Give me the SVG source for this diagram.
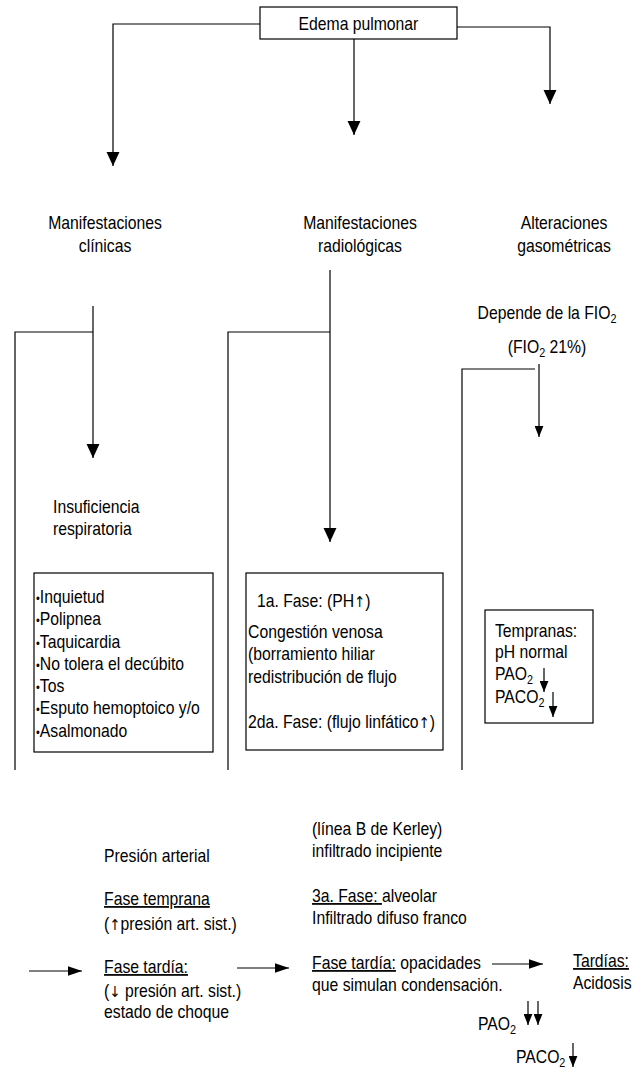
<svg xmlns="http://www.w3.org/2000/svg" width="641" height="1070" viewBox="0 0 641 1070">
<style>
text{font-family:"Liberation Sans",Arial,Helvetica,sans-serif;font-size:17.5px;fill:#000}
.c{text-anchor:middle}
.u{text-decoration:underline}
.sub{font-size:12px}
.ar{font-family:"DejaVu Sans",sans-serif;font-size:15px}
.bul{font-size:12px}
.box{fill:#fff;stroke:#000;stroke-width:1.2}
.ln{fill:none;stroke:#000;stroke-width:1.2}
</style>
<defs>
<marker id="big" markerUnits="userSpaceOnUse" markerWidth="14" markerHeight="14" viewBox="0 0 13 12" refX="13" refY="6" orient="auto">
<path d="M0,0 L13,6 L0,12 z" fill="#000"/>
</marker>
<marker id="mid" markerUnits="userSpaceOnUse" markerWidth="14" markerHeight="10" viewBox="0 0 12 8" refX="12" refY="4" orient="auto">
<path d="M0,0 L12,4 L0,8 z" fill="#000"/>
</marker>
<marker id="sm" markerUnits="userSpaceOnUse" markerWidth="11" markerHeight="9" viewBox="0 0 10 8" refX="10" refY="4" orient="auto">
<path d="M0,0 L10,4 L0,8 z" fill="#000"/>
</marker>
</defs>
<rect width="641" height="1070" fill="#fff"/>

<g id="connectors">
<path class="ln" d="M260,24 H113 V166" marker-end="url(#big)"/>
<path class="ln" d="M354,39 V135" marker-end="url(#big)"/>
<path class="ln" d="M457,27 H550 V104" marker-end="url(#big)"/>
<path class="ln" d="M93,306 V458" marker-end="url(#big)"/>
<path class="ln" d="M93,332 H15 V770"/>
<path class="ln" d="M330,270 V542" marker-end="url(#big)"/>
<path class="ln" d="M330,332 H228 V770"/>
<path class="ln" d="M539,364 V437" marker-end="url(#sm)"/>
<path class="ln" d="M535,369 H462 V770"/>
<path class="ln" d="M29,971 H82" marker-end="url(#mid)"/>
<path class="ln" d="M237,968 H289" marker-end="url(#mid)"/>
<path class="ln" d="M492,964 H543" marker-end="url(#mid)"/>
</g>

<g id="edema">
<rect class="box" x="260" y="7" width="197" height="32"/>
<g transform="scale(0.9,1)"><text class="c" x="398.3" y="30">Edema pulmonar</text></g>
</g>

<g id="clinicas">
<g transform="scale(0.9,1)">
<text class="c" x="116.7" y="229">Manifestaciones</text>
<text class="c" x="116.7" y="252">clínicas</text>
</g>
</g>
<g id="radiologicas">
<g transform="scale(0.9,1)">
<text class="c" x="400" y="229">Manifestaciones</text>
<text class="c" x="400" y="252">radiológicas</text>
</g>
</g>
<g id="gasometricas">
<g transform="scale(0.9,1)">
<text class="c" x="626.7" y="229">Alteraciones</text>
<text class="c" x="626.7" y="252">gasométricas</text>
</g>
</g>

<g id="fio2">
<g transform="scale(0.9,1)">
<text class="c" x="607.8" y="319">Depende de la FIO<tspan class="sub" dy="4">2</tspan></text>
<text class="c" x="607.8" y="353">(FIO<tspan class="sub" dy="4">2</tspan><tspan dy="-4"> 21%)</tspan></text>
</g>
</g>

<g id="insuficiencia">
<g transform="scale(0.9,1)">
<text x="58.9" y="513">Insuficiencia</text>
<text x="58.9" y="535">respiratoria</text>
</g>
</g>

<g id="sintomas">
<rect class="box" x="34" y="573" width="179" height="179"/>
<g transform="scale(0.9,1)">
<text x="40" y="603"><tspan class="bul">•</tspan>Inquietud</text>
<text x="40" y="625.3"><tspan class="bul">•</tspan>Polipnea</text>
<text x="40" y="647.6"><tspan class="bul">•</tspan>Taquicardia</text>
<text x="40" y="670"><tspan class="bul">•</tspan>No tolera el decúbito</text>
<text x="40" y="692.2"><tspan class="bul">•</tspan>Tos</text>
<text x="40" y="714.5"><tspan class="bul">•</tspan>Esputo hemoptoico y/o</text>
<text x="40" y="737"><tspan class="bul">•</tspan>Asalmonado</text>
</g>
</g>

<g id="fases">
<rect class="box" x="246" y="573" width="197" height="177"/>
<g transform="scale(0.9,1)">
<text x="285.6" y="607">1a. Fase: (PH<tspan class="ar">↑</tspan>)</text>
<text x="275.6" y="638">Congestión venosa</text>
<text x="275.6" y="660.5">(borramiento hiliar</text>
<text x="275.6" y="683">redistribución de flujo</text>
<text x="275.6" y="728">2da. Fase: (flujo linfático<tspan class="ar">↑</tspan>)</text>
</g>
</g>

<g id="tempranas">
<rect class="box" x="485" y="610" width="108" height="113"/>
<g transform="scale(0.9,1)">
<text x="550" y="637">Tempranas:</text>
<text x="550" y="658">pH normal</text>
<text x="550" y="680">PAO<tspan class="sub" dy="4">2</tspan></text>
<text x="550" y="703">PACO<tspan class="sub" dy="4">2</tspan></text>
</g>
<path class="ln" d="M544,668 V692" marker-end="url(#sm)"/>
<path class="ln" d="M553,692 V717" marker-end="url(#sm)"/>
</g>

<g id="presion">
<g transform="scale(0.9,1)">
<text x="115.6" y="862">Presión arterial</text>
<text x="115.6" y="905" class="u">Fase temprana</text>
<text x="115.6" y="930">(<tspan class="ar">↑</tspan>presión art. sist.)</text>
<text x="115.6" y="973" class="u">Fase tardía:</text>
<text x="115.6" y="997">(<tspan class="ar">↓</tspan> presión art. sist.)</text>
<text x="115.6" y="1018">estado de choque</text>
</g>
</g>

<g id="kerley">
<g transform="scale(0.9,1)">
<text x="346.7" y="835">(línea B de Kerley)</text>
<text x="346.7" y="857">infiltrado incipiente</text>
<text x="346.7" y="902"><tspan class="u">3a. Fase: </tspan>alveolar</text>
<text x="346.7" y="924">Infiltrado difuso franco</text>
<text x="346.7" y="969"><tspan class="u">Fase tardía:</tspan> opacidades</text>
<text x="346.7" y="991">que simulan condensación.</text>
</g>
</g>

<g id="tardias">
<g transform="scale(0.9,1)">
<text x="636.7" y="967" class="u">Tardías:</text>
<text x="636.7" y="989">Acidosis</text>
<text x="531.1" y="1030">PAO<tspan class="sub" dy="4">2</tspan></text>
<text x="573.3" y="1063">PACO<tspan class="sub" dy="4">2</tspan></text>
</g>
<path class="ln" d="M528,1001 V1025" marker-end="url(#sm)"/>
<path class="ln" d="M538,1001 V1025" marker-end="url(#sm)"/>
<path class="ln" d="M573,1043 V1067" marker-end="url(#sm)"/>
</g>
</svg>
